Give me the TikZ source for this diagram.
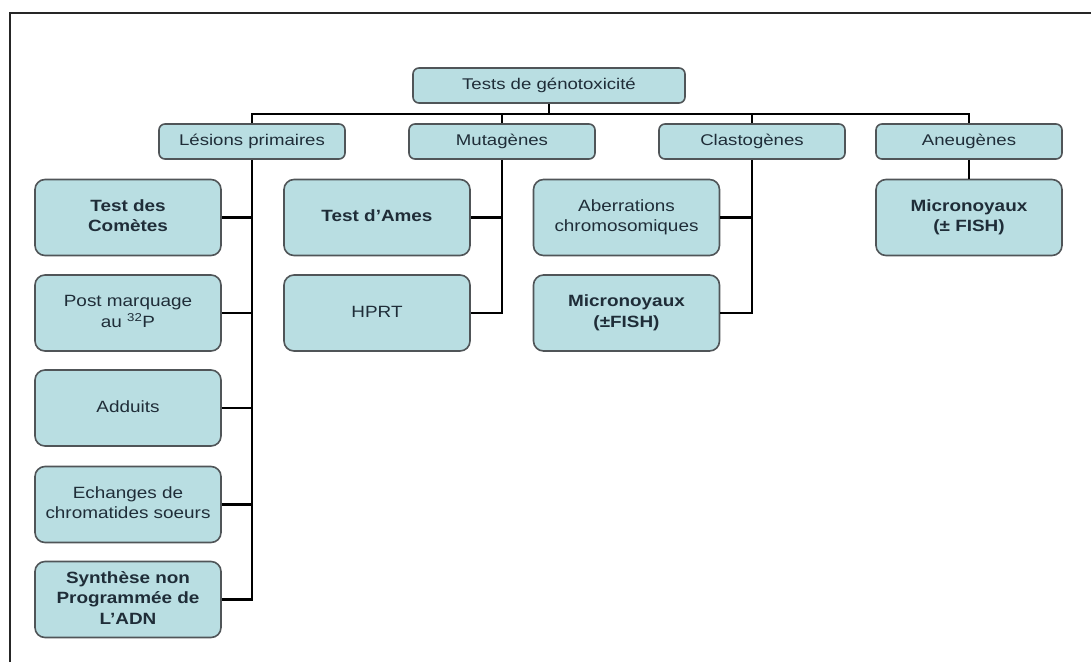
\documentclass[tikz,border=0pt]{standalone}
\usepackage{fontspec}
\usepackage{array}
\usepackage{graphicx}
\setmainfont{Liberation Sans}
\definecolor{boxfill}{HTML}{B9DEE2}
\definecolor{boxline}{HTML}{505558}
\definecolor{txt}{HTML}{1F2D38}
\newcommand\hx[1]{\scalebox{1.2}[1]{#1}}
\newcommand\lx[1]{\scalebox{1.16}[1]{\begin{tabular}{@{}c@{}}#1\end{tabular}}}
\newcommand\lb[1]{\scalebox{1.16}[1]{\begin{tabular}{@{}>{\bfseries}c@{}}#1\end{tabular}}}
\tikzset{
  base/.style={draw=boxline, line width=1.6pt, fill=boxfill, text=txt, inner sep=0pt},
  hdr/.style={base, rounded corners=6pt, minimum width=186pt, minimum height=35pt,
    font=\fontsize{15.5}{19}\selectfont},
  leaf/.style={base, rounded corners=10pt, minimum width=186pt, minimum height=76pt,
    font=\fontsize{16.3}{20.5}\selectfont},
  conn/.style={draw=black, line width=2.8pt},
  frame/.style={draw=black!85, line width=2pt}
}
\begin{document}
\begin{tikzpicture}[x=1pt,y=-1pt]
\useasboundingbox (0,0) rectangle (1091,662);
\coordinate (fa) at (10,662);
\coordinate (fb) at (10,13);
\coordinate (fc) at (1091,13);
\draw[frame] (fa) -- (fb) -- (fc);

\node[hdr, minimum width=272pt] (top) at (549,85.5) {\hx{Tests de génotoxicité}};
\node[hdr] (les) at (252,141.5) {\hx{Lésions primaires}};
\node[hdr] (mut) at (502,141.5) {\hx{Mutagènes}};
\node[hdr] (cla) at (752,141.5) {\hx{Clastogènes}};
\node[hdr] (ane) at (969,141.5) {\hx{Aneugènes}};

\node[leaf] (com) at (128,217.5) {\lb{Test des\\Comètes}};
\node[leaf] (pos) at (128,313) {\lx{Post marquage\\au \textsuperscript{32}P}};
\node[leaf] (add) at (128,408) {\lx{Adduits}};
\node[leaf] (ech) at (128,504.5) {\lx{Echanges de\\chromatides soeurs}};
\node[leaf] (syn) at (128,599.5) {\lb{Synthèse non\\Programmée de\\L'ADN}};

\node[leaf] (ame) at (377,217.5) {\lb{Test d'Ames}};
\node[leaf] (hpr) at (377,313) {\lx{HPRT}};

\node[leaf] (abe) at (626.5,217.5) {\lx{Aberrations\\chromosomiques}};
\node[leaf] (mic) at (626.5,313) {\lb{Micronoyaux\\(±FISH)}};

\node[leaf] (mia) at (969,217.5) {\lb{Micronoyaux\\(± FISH)}};

\coordinate (bar) at (0,114);
\draw[conn] (top.south) -- (top.south |- bar);
\draw[conn] (les.north) -- (les.north |- bar) -- (ane.north |- bar) -- (ane.north);
\draw[conn] (mut.north) -- (mut.north |- bar);
\draw[conn] (cla.north) -- (cla.north |- bar);

\draw[conn] (les.south) |- (syn.east);
\draw[conn] (com.east) -- (com.east -| les.south);
\draw[conn] (pos.east) -- (pos.east -| les.south);
\draw[conn] (add.east) -- (add.east -| les.south);
\draw[conn] (ech.east) -- (ech.east -| les.south);

\draw[conn] (mut.south) |- (hpr.east);
\draw[conn] (ame.east) -- (ame.east -| mut.south);

\draw[conn] (cla.south) |- (mic.east);
\draw[conn] (abe.east) -- (abe.east -| cla.south);

\draw[conn] (ane.south) -- (mia.north);
\end{tikzpicture}
\end{document}
